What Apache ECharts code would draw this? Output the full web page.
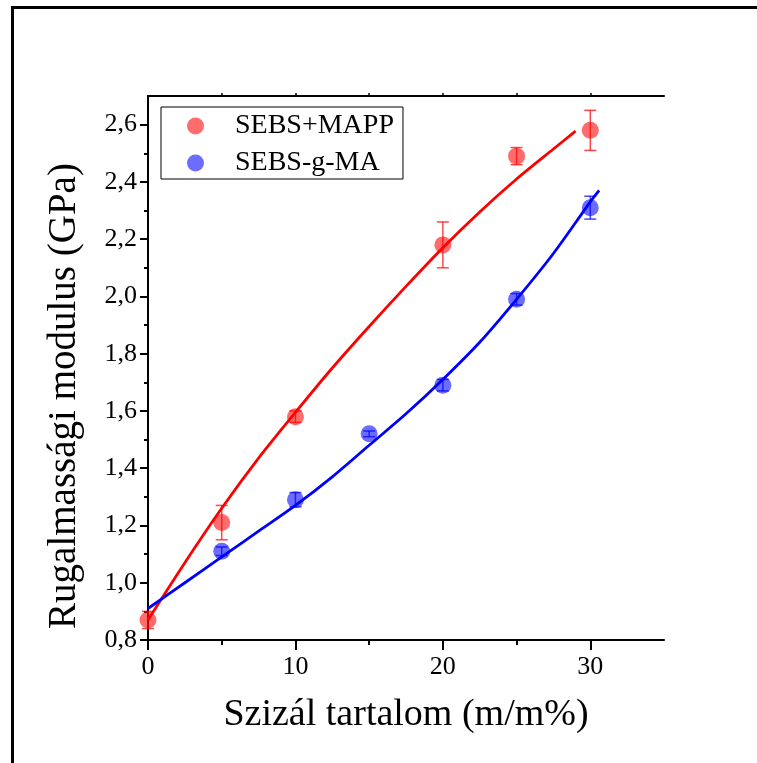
<!DOCTYPE html>
<html>
<head>
<meta charset="utf-8">
<script src="https://cdn.jsdelivr.net/npm/echarts@6/dist/echarts.min.js"></script>
<style>
html, body { margin: 0; padding: 0; background: #fff; }
#main { width: 757px; height: 763px; }
</style>
</head>
<body>
<div id="main"></div>
<script>
// measured points (szizál tartalom, m/m%)
const mappX = [0, 5, 10, 20, 25, 30]
const mappMod = [0.87, 1.21, 1.58, 2.18, 2.49, 2.58]
const mappErr = [0.03, 0.06, 0.02, 0.08, 0.03, 0.07]

const gmaX = [5, 10, 15, 20, 25, 30]
const gmaMod = [1.11, 1.29, 1.52, 1.69, 1.99, 2.31]
const gmaErr = [0.015, 0.025, 0.01, 0.02, 0.02, 0.04]

// fitted curves
const mappFitX = [0, 2.5, 5, 7.5, 10, 12.5, 15, 17.5, 20, 22.5, 25, 27.5, 29]
const mappFitY = [0.87, 1.07, 1.26, 1.435, 1.595, 1.75, 1.895, 2.035, 2.17, 2.295, 2.41, 2.515, 2.577]
const gmaFitX = [0, 2.5, 5, 7.5, 10, 12.5, 15, 17.5, 20, 22.5, 25, 27.5, 30, 30.6]
const gmaFitY = [0.91, 1.0, 1.09, 1.18, 1.27, 1.37, 1.48, 1.59, 1.71, 1.84, 1.99, 2.15, 2.33, 2.37]

// ticks
const xMajor = [0, 10, 20, 30]
const xMinor = [5, 15, 25]
const xTop = [5, 10, 15, 20, 25, 30]
const yMajor = [0.8, 1.0, 1.2, 1.4, 1.6, 1.8, 2.0, 2.2, 2.4, 2.6]
const yMinor = [0.9, 1.1, 1.3, 1.5, 1.7, 1.9, 2.1, 2.3, 2.5]

const FONT = 'Liberation Serif'
const RED = 'rgba(255,0,0,0.72)'
const BLUE = 'rgba(0,0,255,0.72)'

const chart = echarts.init(document.getElementById('main'))

function errorBars(params, api) {
  const x = api.value(0)
  const lo = api.coord([x, api.value(1)])
  const hi = api.coord([x, api.value(2)])
  const w = 6
  const style = { stroke: api.visual('color'), lineWidth: 1.5 }
  return {
    type: 'group',
    children: [
      { type: 'line', shape: { x1: hi[0], y1: hi[1], x2: lo[0], y2: lo[1] }, style: style },
      { type: 'line', shape: { x1: hi[0] - w, y1: hi[1], x2: hi[0] + w, y2: hi[1] }, style: style },
      { type: 'line', shape: { x1: lo[0] - w, y1: lo[1], x2: lo[0] + w, y2: lo[1] }, style: style }
    ]
  }
}

const blackLine = { show: true, lineStyle: { color: '#000', width: 2 } }
const fmt = v => v.toFixed(1).replace('.', ',')

const option = {
  animation: false,
  graphic: [
    {
      type: 'rect',
      silent: true,
      shape: { x: 12.5, y: 7.5, width: 800, height: 800 },
      style: { fill: null, stroke: '#000', lineWidth: 3 }
    },
    {
      type: 'text',
      x: 65,
      y: 396,
      rotation: Math.PI / 2,
      style: {
        text: 'Rugalmassági modulus (GPa)',
        font: '39px "Liberation Serif"',
        fill: '#000',
        align: 'center',
        verticalAlign: 'middle'
      }
    }
  ],
  grid: { left: 148, right: 93, top: 96, bottom: 123, outerBoundsMode: 'none' },
  legend: {
    orient: 'vertical',
    left: 161,
    top: 107,
    padding: [4, 9, 1, 26],
    itemWidth: 17,
    itemHeight: 17,
    itemGap: 7,
    borderColor: '#000',
    borderWidth: 1,
    selectedMode: false,
    data: [
      { name: 'SEBS+MAPP', icon: 'circle' },
      { name: 'SEBS-g-MA', icon: 'circle' }
    ],
    textStyle: { fontFamily: FONT, fontSize: 28, color: '#000', lineHeight: 30, padding: [0, 0, 0, 26] }
  },
  xAxis: [
    {
      type: 'value', min: 0, max: 35, position: 'bottom',
      axisLine: blackLine,
      axisTick: { show: true, length: 10, customValues: xMajor, lineStyle: { color: '#000', width: 2 } },
      axisLabel: { customValues: xMajor, margin: 14, fontFamily: FONT, fontSize: 26, color: '#000' },
      splitLine: { show: false },
      name: 'Szizál tartalom (m/m%)',
      nameLocation: 'middle',
      nameGap: 56,
      nameTextStyle: { fontFamily: FONT, fontSize: 38, color: '#000' }
    },
    {
      type: 'value', min: 0, max: 35, position: 'bottom',
      axisLine: { show: false },
      axisTick: { show: true, length: 5, customValues: xMinor, lineStyle: { color: '#000', width: 2 } },
      axisLabel: { show: false },
      splitLine: { show: false }
    },
    {
      type: 'value', min: 0, max: 35, position: 'top',
      axisLine: blackLine,
      axisTick: { show: true, length: 3, customValues: xTop, lineStyle: { color: '#000', width: 1.5 } },
      axisLabel: { show: false },
      splitLine: { show: false }
    }
  ],
  yAxis: [
    {
      type: 'value', min: 0.8, max: 2.7, position: 'left',
      axisLine: blackLine,
      axisTick: { show: true, length: 8, customValues: yMajor, lineStyle: { color: '#000', width: 2 } },
      axisLabel: { customValues: yMajor, formatter: fmt, margin: 11, fontFamily: FONT, fontSize: 26, color: '#000' },
      splitLine: { show: false }
    },
    {
      type: 'value', min: 0.8, max: 2.7, position: 'left',
      axisLine: { show: false },
      axisTick: { show: true, length: 4, customValues: yMinor, lineStyle: { color: '#000', width: 2 } },
      axisLabel: { show: false },
      splitLine: { show: false }
    },
    {
      type: 'value', min: 0.8, max: 2.7, position: 'right',
      axisLine: blackLine,
      axisTick: { show: false },
      axisLabel: { show: false },
      splitLine: { show: false }
    }
  ],
  series: [
    {
      name: 'mapp-fit', type: 'line', smooth: 0.3, showSymbol: false, z: 3,
      data: mappFitX.map((x, i) => [x, mappFitY[i]]),
      lineStyle: { color: '#ff0000', width: 2.8 }
    },
    {
      name: 'gma-fit', type: 'line', smooth: 0.3, showSymbol: false, z: 3,
      data: gmaFitX.map((x, i) => [x, gmaFitY[i]]),
      lineStyle: { color: '#0000ff', width: 2.8 }
    },
    {
      name: 'SEBS+MAPP', type: 'scatter', symbol: 'circle', symbolSize: 17, z: 4,
      itemStyle: { color: RED },
      data: mappX.map((x, i) => [x, mappMod[i]])
    },
    {
      name: 'SEBS-g-MA', type: 'scatter', symbol: 'circle', symbolSize: 17, z: 4,
      itemStyle: { color: BLUE },
      data: gmaX.map((x, i) => [x, gmaMod[i]])
    },
    {
      name: 'mapp-err', type: 'custom', renderItem: errorBars, z: 5,
      itemStyle: { color: RED },
      encode: { x: 0, y: [1, 2] },
      data: mappX.map((x, i) => [x, mappMod[i] - mappErr[i], mappMod[i] + mappErr[i]])
    },
    {
      name: 'gma-err', type: 'custom', renderItem: errorBars, z: 5,
      itemStyle: { color: BLUE },
      encode: { x: 0, y: [1, 2] },
      data: gmaX.map((x, i) => [x, gmaMod[i] - gmaErr[i], gmaMod[i] + gmaErr[i]])
    }
  ]
}

chart.setOption(option)
</script>
</body>
</html>
